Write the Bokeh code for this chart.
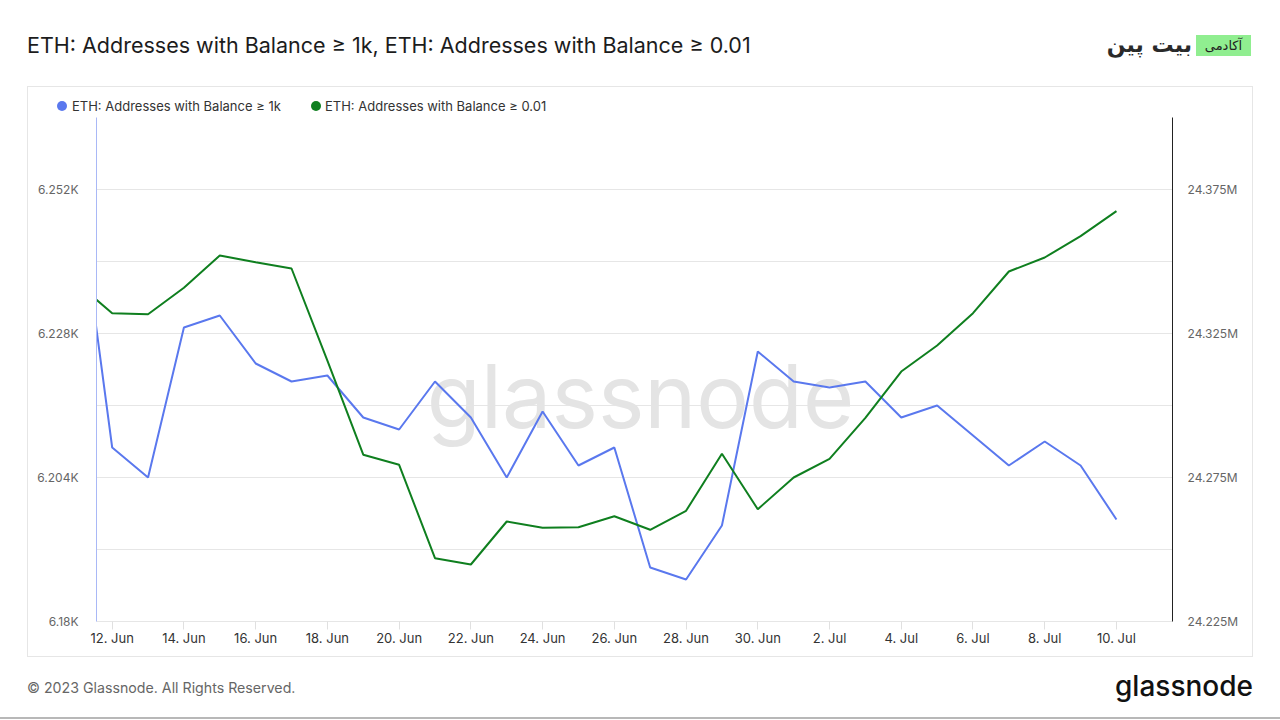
import pandas as pd
from bokeh.plotting import figure
from bokeh.models import Range1d, LinearAxis, FixedTicker, Label, Div
from bokeh.layouts import column, row
from bokeh.embed import file_html
from bokeh.resources import INLINE

# ---------------- data ----------------
dates = ["2023-06-11", "2023-06-12", "2023-06-13", "2023-06-14", "2023-06-15",
         "2023-06-16", "2023-06-17", "2023-06-18", "2023-06-19", "2023-06-20",
         "2023-06-21", "2023-06-22", "2023-06-23", "2023-06-24", "2023-06-25",
         "2023-06-26", "2023-06-27", "2023-06-28", "2023-06-29", "2023-06-30",
         "2023-07-01", "2023-07-02", "2023-07-03", "2023-07-04", "2023-07-05",
         "2023-07-06", "2023-07-07", "2023-07-08", "2023-07-09", "2023-07-10"]

addr_1k = [6254, 6209, 6204, 6229, 6231, 6223, 6220, 6221, 6214, 6212,
           6220, 6214, 6204, 6215, 6206, 6209, 6189, 6187, 6196, 6225,
           6220, 6219, 6220, 6214, 6216, 6211, 6206, 6210, 6206, 6197]

addr_001 = [24342700, 24332050, 24331700, 24340870, 24352080, 24349760, 24347570,
            24315600, 24282920, 24279410, 24246980, 24244790, 24259720, 24257530,
            24257740, 24261560, 24256840, 24263440, 24283230, 24263990, 24275000,
            24281490, 24295730, 24311800, 24320830, 24332050, 24346530, 24351390,
            24358790, 24367470]

x_tick_dates = ["2023-06-12", "2023-06-14", "2023-06-16", "2023-06-18", "2023-06-20",
                "2023-06-22", "2023-06-24", "2023-06-26", "2023-06-28", "2023-06-30",
                "2023-07-02", "2023-07-04", "2023-07-06", "2023-07-08", "2023-07-10"]
x_tick_labels = ["12. Jun", "14. Jun", "16. Jun", "18. Jun", "20. Jun", "22. Jun",
                 "24. Jun", "26. Jun", "28. Jun", "30. Jun", "2. Jul", "4. Jul",
                 "6. Jul", "8. Jul", "10. Jul"]

left_ticks = [6180, 6204, 6228, 6252]
left_labels = ["6.18K", "6.204K", "6.228K", "6.252K"]
grid_ticks = [6180, 6192, 6204, 6216, 6228, 6240, 6252]
right_ticks = [24225000, 24275000, 24325000, 24375000]
right_labels = ["24.225M", "24.275M", "24.325M", "24.375M"]

series_names = ["ETH: Addresses with Balance \u2265 1k",
                "ETH: Addresses with Balance \u2265 0.01"]
title_text = "ETH: Addresses with Balance \u2265 1k, ETH: Addresses with Balance \u2265 0.01"
footer_text = "\u00a9 2023 Glassnode. All Rights Reserved."
brand_text = "glassnode"
logo_word = "بیت پین"
logo_badge = "آکادمی"

BLUE = "#5a78ee"
GREEN = "#0f7f1f"
FONT = "Inter"
BORDER = "#e6e6e6"

# ---------------- figure ----------------
x = pd.to_datetime(dates)
x_start = pd.Timestamp("2023-06-11 13:30")
x_end = pd.Timestamp("2023-07-11 13:30")

p = figure(width=1224, height=539, x_axis_type="datetime", title=None,
           x_range=Range1d(x_start, x_end), y_range=Range1d(6180, 6264),
           output_backend="svg", toolbar_location=None,
           min_border_left=68, min_border_right=80,
           min_border_top=0, min_border_bottom=35,
           outline_line_color=None, background_fill_color="white",
           border_fill_color="white", margin=0)
p.extra_y_ranges = {"right": Range1d(24225000, 24400000)}

p.xgrid.visible = False
p.ygrid.ticker = FixedTicker(ticks=grid_ticks)
p.ygrid.grid_line_color = BORDER
p.ygrid.grid_line_width = 1

ly = p.left[0]
ly.ticker = FixedTicker(ticks=left_ticks)
ly.major_label_overrides = dict(zip(left_ticks, left_labels))
ly.axis_line_color = "#a9b8f6"
ly.major_tick_line_color = None
ly.minor_tick_line_color = None
ly.major_label_standoff = 12
ly.major_label_text_font_size = "12px"
ly.major_label_text_color = "#666666"
ly.major_label_text_font = FONT

ry = LinearAxis(y_range_name="right")
ry.ticker = FixedTicker(ticks=right_ticks)
ry.major_label_overrides = dict(zip(right_ticks, right_labels))
ry.axis_line_color = "#222222"
ry.major_tick_line_color = None
ry.minor_tick_line_color = None
ry.major_label_standoff = 9
ry.major_label_text_font_size = "12px"
ry.major_label_text_color = "#666666"
ry.major_label_text_font = FONT
p.add_layout(ry, "right")

xt_ms = [int(pd.Timestamp(d).value // 10**6) for d in x_tick_dates]
bx = p.below[0]
bx.ticker = FixedTicker(ticks=xt_ms)
bx.major_label_overrides = dict(zip(xt_ms, x_tick_labels))
bx.axis_line_color = BORDER
bx.major_tick_line_color = "#e0e0e0"
bx.major_tick_out = 8
bx.major_tick_in = 0
bx.minor_tick_line_color = None
bx.major_label_standoff = 0
bx.major_label_text_font_size = "13px"
bx.major_label_text_color = "#333333"
bx.major_label_text_font = FONT

# watermark (frame-relative screen units)
p.add_layout(Label(x=544, y=226, x_units="screen", y_units="screen", text=brand_text,
                   text_font=FONT, text_font_size="88px", text_color="#e4e4e4",
                   text_align="center", text_baseline="alphabetic", level="underlay"))

p.line(x, addr_1k, line_color=BLUE, line_width=2)
p.line(x, addr_001, line_color=GREEN, line_width=2, y_range_name="right")

# ---------------- header / legend / footer as HTML ----------------
def ab(style, content=""):
    return f'<div style="position:absolute;white-space:nowrap;{style}">{content}</div>'


header_html = (
    f'<div style="position:relative;width:1280px;height:117px;font-family:{FONT},sans-serif;">'
    + ab("left:27px;top:32px;font-size:21.5px;line-height:26px;color:#1c1c1c;", title_text)
    + ab("right:88px;top:30px;font-family:'DejaVu Sans',sans-serif;font-weight:bold;"
         "font-size:22px;line-height:30px;color:#2a2a2a;direction:rtl;", logo_word)
    + ab("left:1196px;top:35px;width:55px;height:21px;background:#90ee90;"
         "font-family:'DejaVu Sans',sans-serif;font-size:13px;line-height:21px;"
         "text-align:center;color:#222222;direction:rtl;", logo_badge)
    + ab(f"left:27px;top:86px;width:1226px;height:31px;box-sizing:border-box;"
         f"border:1px solid {BORDER};border-bottom:none;")
    + ab(f"left:57px;top:101px;width:10px;height:10px;border-radius:5px;background:{BLUE};")
    + ab("left:72px;top:98px;font-size:13px;line-height:16px;color:#333333;", series_names[0])
    + ab(f"left:311px;top:101px;width:10px;height:10px;border-radius:5px;background:{GREEN};")
    + ab("left:325px;top:98px;font-size:13px;line-height:16px;color:#333333;", series_names[1])
    + '</div>'
)

footer_html = (
    f'<div style="position:relative;width:1280px;height:64px;font-family:{FONT},sans-serif;">'
    + ab(f"left:27px;top:0px;width:1226px;height:1px;background:{BORDER};")
    + ab("left:27px;top:24px;font-size:14.2px;line-height:16px;color:#666666;", footer_text)
    + ab("right:27px;top:16px;font-size:28px;line-height:28px;font-weight:500;color:#111111;",
         brand_text)
    + ab("left:0px;top:61px;width:1280px;height:2px;background:#b8b8b8;")
    + '</div>'
)

header = Div(text=header_html, width=1280, height=117, margin=0)
footer = Div(text=footer_html, width=1280, height=64, margin=0)


def vline():
    return Div(text="", width=1, height=539, margin=0,
               styles={"background-color": BORDER})


def gap():
    return Div(text="", width=27, height=539, margin=0)


middle = row(gap(), vline(), p, vline(), gap(), spacing=0, margin=0)
page = column(header, middle, footer, spacing=0, margin=0)

open("out.html", "w").write(file_html(page, INLINE))
